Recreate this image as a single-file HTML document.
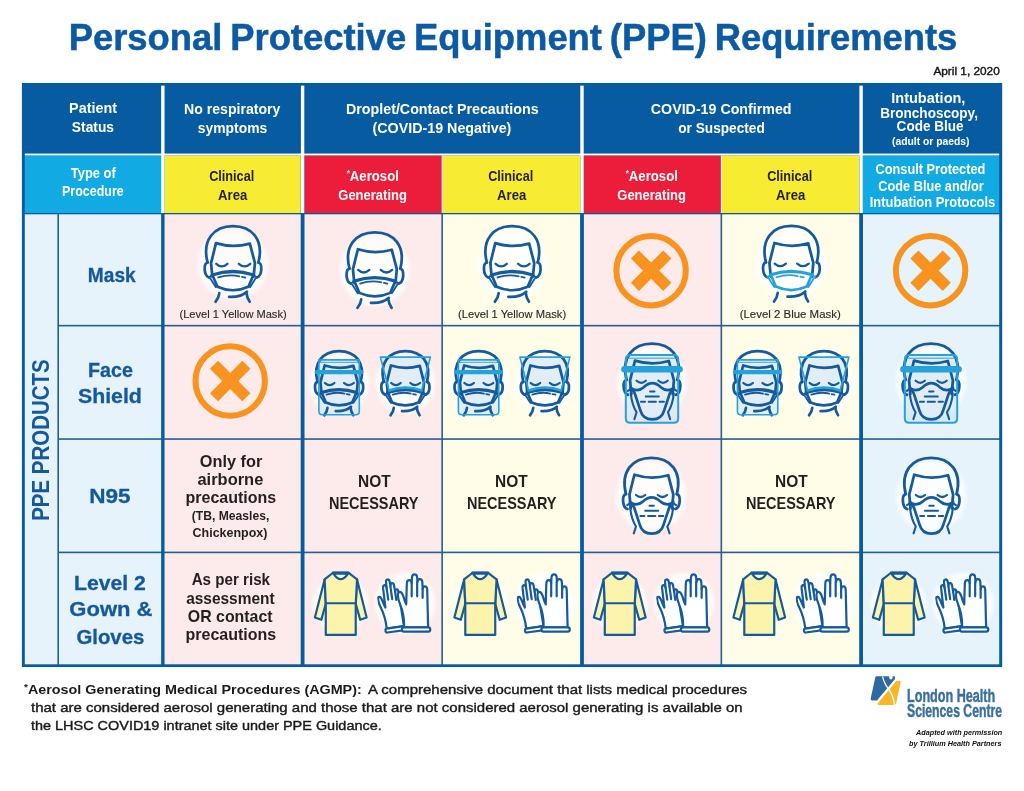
<!DOCTYPE html>
<html lang="en"><head><meta charset="utf-8"><title>Personal Protective Equipment (PPE) Requirements</title>
<style>
html,body{margin:0;padding:0;background:#fff}
body{width:1024px;height:791px;position:relative;overflow:hidden;font-family:"Liberation Sans",sans-serif}
.r{position:absolute}
.ic{position:absolute;left:0;top:0;overflow:visible}
.t{position:absolute;white-space:nowrap;line-height:1}
.s{display:inline-block;white-space:nowrap}
.f{-webkit-text-stroke:0.4px #1a1a1a}
.c{-webkit-text-stroke:0.15px #2a2a2a}
.tt{-webkit-text-stroke:0.5px #0b5aa2}
.lb{-webkit-text-stroke:0.3px #14599d}
.lg{-webkit-text-stroke:0.45px #3a709e}
.h{-webkit-text-stroke:0.2px currentColor}
</style></head>
<body>
<svg class="ic" width="1024" height="791" viewBox="0 0 1024 791">
<rect x="21.90" y="82.95" width="980.30" height="584.10" fill="#075ca1"/>
<rect x="24.80" y="155.40" width="136.35" height="57.60" fill="#12aae2"/>
<rect x="164.55" y="155.40" width="136.15" height="57.60" fill="#f7ec32"/>
<rect x="304.50" y="155.40" width="137.15" height="57.60" fill="#ec1c3b"/>
<rect x="442.75" y="155.40" width="137.35" height="57.60" fill="#f7ec32"/>
<rect x="583.90" y="155.40" width="136.95" height="57.60" fill="#ec1c3b"/>
<rect x="721.95" y="155.40" width="137.25" height="57.60" fill="#f7ec32"/>
<rect x="863.00" y="155.40" width="136.20" height="57.60" fill="#12aae2"/>
<rect x="24.80" y="153.55" width="974.40" height="1.85" fill="#fff"/>
<rect x="161.15" y="85.65" width="3.40" height="127.35" fill="#fff"/>
<rect x="300.90" y="85.65" width="3.40" height="127.35" fill="#fff"/>
<rect x="580.30" y="85.65" width="3.40" height="127.35" fill="#fff"/>
<rect x="859.40" y="85.65" width="3.40" height="127.35" fill="#fff"/>
<rect x="441.65" y="155.40" width="1.10" height="57.60" fill="#fff"/>
<rect x="720.85" y="155.40" width="1.10" height="57.60" fill="#fff"/>
<rect x="57.30" y="214.30" width="1.80" height="450.00" fill="#27608f"/>
<rect x="441.25" y="214.30" width="1.80" height="450.00" fill="#27608f"/>
<rect x="720.45" y="214.30" width="1.80" height="450.00" fill="#27608f"/>
<rect x="58.20" y="324.75" width="941.00" height="1.80" fill="#27608f"/>
<rect x="58.20" y="438.15" width="941.00" height="1.80" fill="#27608f"/>
<rect x="58.20" y="551.50" width="941.00" height="1.80" fill="#27608f"/>
<rect x="161.15" y="214.30" width="3.40" height="450.00" fill="#075ca1"/>
<rect x="300.70" y="214.30" width="3.80" height="450.00" fill="#075ca1"/>
<rect x="580.10" y="214.30" width="3.80" height="450.00" fill="#075ca1"/>
<rect x="859.20" y="214.30" width="3.80" height="450.00" fill="#075ca1"/>
<rect x="59.00" y="214.30" width="102.15" height="110.55" fill="#e6f3fb"/>
<rect x="164.55" y="214.30" width="136.15" height="110.55" fill="#fdeaea"/>
<rect x="304.50" y="214.30" width="136.85" height="110.55" fill="#fdeaea"/>
<rect x="442.95" y="214.30" width="137.15" height="110.55" fill="#fffde8"/>
<rect x="583.90" y="214.30" width="136.65" height="110.55" fill="#fdeaea"/>
<rect x="722.15" y="214.30" width="137.05" height="110.55" fill="#fffde8"/>
<rect x="863.00" y="214.30" width="136.20" height="110.55" fill="#e6f3fb"/>
<rect x="59.00" y="326.45" width="102.15" height="111.80" fill="#e6f3fb"/>
<rect x="164.55" y="326.45" width="136.15" height="111.80" fill="#fdeaea"/>
<rect x="304.50" y="326.45" width="136.85" height="111.80" fill="#fdeaea"/>
<rect x="442.95" y="326.45" width="137.15" height="111.80" fill="#fffde8"/>
<rect x="583.90" y="326.45" width="136.65" height="111.80" fill="#fdeaea"/>
<rect x="722.15" y="326.45" width="137.05" height="111.80" fill="#fffde8"/>
<rect x="863.00" y="326.45" width="136.20" height="111.80" fill="#e6f3fb"/>
<rect x="59.00" y="439.85" width="102.15" height="111.75" fill="#e6f3fb"/>
<rect x="164.55" y="439.85" width="136.15" height="111.75" fill="#fdeaea"/>
<rect x="304.50" y="439.85" width="136.85" height="111.75" fill="#fdeaea"/>
<rect x="442.95" y="439.85" width="137.15" height="111.75" fill="#fffde8"/>
<rect x="583.90" y="439.85" width="136.65" height="111.75" fill="#fdeaea"/>
<rect x="722.15" y="439.85" width="137.05" height="111.75" fill="#fffde8"/>
<rect x="863.00" y="439.85" width="136.20" height="111.75" fill="#e6f3fb"/>
<rect x="59.00" y="553.20" width="102.15" height="111.10" fill="#e6f3fb"/>
<rect x="164.55" y="553.20" width="136.15" height="111.10" fill="#fdeaea"/>
<rect x="304.50" y="553.20" width="136.85" height="111.10" fill="#fdeaea"/>
<rect x="442.95" y="553.20" width="137.15" height="111.10" fill="#fffde8"/>
<rect x="583.90" y="553.20" width="136.65" height="111.10" fill="#fdeaea"/>
<rect x="722.15" y="553.20" width="137.05" height="111.10" fill="#fffde8"/>
<rect x="863.00" y="553.20" width="136.20" height="111.10" fill="#e6f3fb"/>
<rect x="24.80" y="214.30" width="32.60" height="450.00" fill="#e6f3fb"/>
</svg>
<svg class="ic" width="1024" height="791" viewBox="0 0 1024 791">
<defs>
<radialGradient id="halo"><stop offset="0" stop-color="#fff" stop-opacity=".9"/><stop offset=".84" stop-color="#fff" stop-opacity=".8"/><stop offset="1" stop-color="#fff" stop-opacity="0"/></radialGradient>
<symbol id="head" viewBox="0 0 757 791">
 <g fill="none" stroke="#155a9b" stroke-width="2.75" stroke-linecap="round" stroke-linejoin="round">
  <path vector-effect="non-scaling-stroke" d="M190 322 C150 165 235 72 365 72 C495 72 580 165 540 322"/>
  <path vector-effect="non-scaling-stroke" d="M223 420 L214 326 L248 189 Q365 226 481 192 L516 326 L507 420"/>
  <path vector-effect="non-scaling-stroke" d="M190 322 C162 328 162 410 200 425"/>
  <path vector-effect="non-scaling-stroke" d="M540 322 C568 328 568 410 530 425"/>
 </g>
</symbol>
<symbol id="eyes" viewBox="0 0 757 791">
 <g fill="none" stroke="#155a9b" stroke-width="2.3" stroke-linecap="round">
  <path vector-effect="non-scaling-stroke" d="M250 331 Q288 366 327 331"/><path vector-effect="non-scaling-stroke" d="M405 331 Q444 366 484 331"/>
 </g>
</symbol>
<symbol id="eyes2" viewBox="0 0 757 791">
 <g fill="none" stroke="#155a9b" stroke-width="2.2" stroke-linecap="round">
  <path vector-effect="non-scaling-stroke" d="M259 328 Q291 356 323 328"/><path vector-effect="non-scaling-stroke" d="M409 328 Q441 356 473 328"/>
 </g>
</symbol>
<symbol id="neck" viewBox="0 0 757 791">
 <g fill="none" stroke="#155a9b" stroke-width="2.7" stroke-linecap="round" stroke-linejoin="round">
  <path vector-effect="non-scaling-stroke" d="M271 533 Q268 566 245 592"/>
  <path vector-effect="non-scaling-stroke" d="M458 533 Q461 566 480 592"/>
  <path vector-effect="non-scaling-stroke" d="M338 558 Q420 562 461 523"/>
 </g>
</symbol>
<symbol id="smask" viewBox="0 0 757 791">
 <g fill="none" stroke="#155a9b" stroke-width="2.7" stroke-linecap="round" stroke-linejoin="round">
  <path vector-effect="non-scaling-stroke" d="M224 410 L258 489 Q364 537 471 489 L505 410"/>
  <path vector-effect="non-scaling-stroke" d="M222 408 Q364 360 507 408" stroke-width="3.3"/>
  <path vector-effect="non-scaling-stroke" d="M263 425 Q340 400 409 417 M427 421 L450 426" stroke-width="1.8"/>
  <path vector-effect="non-scaling-stroke" d="M199 424 L222 409 M209 432 L247 492 M530 424 L507 409 M520 432 L482 492" stroke-width="1.8"/>
 </g>
</symbol>
<symbol id="smaskb" viewBox="0 0 757 791">
 <g fill="none" stroke="#25a2dc" stroke-width="2.7" stroke-linecap="round" stroke-linejoin="round">
  <path vector-effect="non-scaling-stroke" d="M224 410 L258 489 Q364 537 471 489 L505 410"/>
  <path vector-effect="non-scaling-stroke" d="M222 408 Q364 360 507 408" stroke-width="3.3"/>
  <path vector-effect="non-scaling-stroke" d="M263 425 Q340 400 409 417 M427 421 L450 426" stroke-width="1.8"/>
  <path vector-effect="non-scaling-stroke" d="M199 424 L222 409 M209 432 L247 492 M530 424 L507 409 M520 432 L482 492" stroke-width="1.8"/>
 </g>
</symbol>
<symbol id="n95" viewBox="0 0 757 791">
 <g fill="none" stroke="#155a9b" stroke-linecap="round" stroke-linejoin="round">
  <path vector-effect="non-scaling-stroke" stroke-width="2.7" d="M218 376 Q262 412 308 372 Q338 344 367 344 Q396 344 426 372 Q472 412 516 376 Q498 396 487 416 L449 532 Q432 594 367 594 Q302 594 285 532 L247 416 Q236 396 218 376 Z"/>
  <path vector-effect="non-scaling-stroke" stroke-width="2.0" d="M352 402 H382 M322 437 H412 M289 472 H317 M342 472 H392 M417 472 H447"/>
  <path vector-effect="non-scaling-stroke" stroke-width="2.1" d="M199 398 L220 384 M219 416 C225 470 240 515 259 545 L244 592 M535 398 L514 384 M515 416 C509 470 494 515 475 545 L490 592"/>
 </g>
</symbol>
<symbol id="xmark" viewBox="-40 -40 80 80">
 <circle r="34.7" fill="none" stroke="#f7931e" stroke-width="6"/>
 <path d="M-16.2 -16.2 L16.2 16.2 M16.2 -16.2 L-16.2 16.2" stroke="#f7931e" stroke-width="11.5" fill="none"/>
</symbol>
<symbol id="gown" viewBox="0 0 963 791">
 <g stroke="#155a9b" stroke-width="15" stroke-linejoin="round" stroke-linecap="round" fill="#fcf3ad">
  <path d="M135 168 L68 430 L112 446 L143 335 Z"/>
  <path d="M358 168 L424 430 L380 446 L349 335 Z"/>
  <path d="M193 122 L135 168 L143 335 L143 550 L349 550 L349 335 L358 168 L298 122 Z"/>
  <path d="M143 332 H349" fill="none"/>
  <path d="M196 128 Q245 205 296 128 Z" fill="#fff"/>
  <path d="M193 122 H298" stroke-width="17"/>
 </g>
</symbol>
<symbol id="glove" viewBox="0 0 240 430">
 <g stroke="#155a9b" stroke-width="2.2" stroke-linejoin="round" stroke-linecap="round" fill="#fff">
  <path vector-effect="non-scaling-stroke" d="M48 372 C50 300 40 260 22 215 C8 180 2 150 12 132 C30 120 42 150 52 190 L62 215 L66 70 C68 42 96 42 98 70 L100 30 C102 2 132 2 134 30 L136 62 C138 36 166 36 168 62 L170 110 C172 86 198 86 200 112 L206 372 Z"/>
  <path vector-effect="non-scaling-stroke" d="M98 70 V160 M134 62 V160 M170 110 V170" fill="none"/>
  <rect vector-effect="non-scaling-stroke" x="34" y="372" width="186" height="30" rx="13"/>
 </g>
</symbol>
</defs>

<circle cx="233.0" cy="264.4" r="38.1" fill="url(#halo)"/>
<use href="#head" x="179.95" y="215.68" width="110.00" height="115.00" />
<use href="#eyes" x="179.95" y="215.68" width="110.00" height="115.00" />
<use href="#neck" x="179.95" y="215.68" width="110.00" height="115.00" />
<use href="#smask" x="179.95" y="215.68" width="110.00" height="115.00" />
<circle cx="374.9" cy="270.5" r="38.1" fill="url(#halo)"/>
<use href="#head" x="321.85" y="221.78" width="110.00" height="115.00" />
<use href="#eyes" x="321.85" y="221.78" width="110.00" height="115.00" />
<use href="#neck" x="321.85" y="221.78" width="110.00" height="115.00" />
<use href="#smask" x="321.85" y="221.78" width="110.00" height="115.00" />
<circle cx="512.3" cy="264.4" r="38.1" fill="url(#halo)"/>
<use href="#head" x="459.25" y="215.68" width="110.00" height="115.00" />
<use href="#eyes" x="459.25" y="215.68" width="110.00" height="115.00" />
<use href="#neck" x="459.25" y="215.68" width="110.00" height="115.00" />
<use href="#smask" x="459.25" y="215.68" width="110.00" height="115.00" />
<use href="#xmark" x="611.10" y="230.70" width="80.00" height="80.00" />
<circle cx="791.4" cy="264.2" r="38.1" fill="url(#halo)"/>
<use href="#head" x="738.35" y="215.48" width="110.00" height="115.00" />
<use href="#eyes" x="738.35" y="215.48" width="110.00" height="115.00" />
<use href="#neck" x="738.35" y="215.48" width="110.00" height="115.00" />
<use href="#smaskb" x="738.35" y="215.48" width="110.00" height="115.00" />
<use href="#xmark" x="890.60" y="230.70" width="80.00" height="80.00" />
<use href="#xmark" x="190.20" y="341.00" width="80.00" height="80.00" />
<circle cx="339.1" cy="383.5" r="32.4" fill="url(#halo)"/>
<path d="M318.9 359.9 H359.3 V411.3 Q359.3 414.8 355.8 414.8 H322.4 Q318.9 414.8 318.9 411.3 Z" fill="#cfe3f4" fill-opacity=".6"/>
<use href="#head" x="294.01" y="342.09" width="93.50" height="97.75" />
<use href="#eyes" x="294.01" y="342.09" width="93.50" height="97.75" />
<use href="#neck" x="294.01" y="342.09" width="93.50" height="97.75" />
<use href="#smask" x="294.01" y="342.09" width="93.50" height="97.75" />
<path d="M318.9 359.9 H359.3 V411.3 Q359.3 414.8 355.8 414.8 H322.4 Q318.9 414.8 318.9 411.3 Z" fill="none" stroke="#25a2dc" stroke-width="1.6"/>
<path d="M318.9 362.3 H359.3" stroke="#25a2dc" stroke-width="0.9"/>
<path d="M316.7 372.1 H361.5" stroke="#25a2dc" stroke-width="4.3" stroke-linecap="round"/>
<circle cx="405.4" cy="383.5" r="32.4" fill="url(#halo)"/>
<path d="M380.4 357.1 L430.4 357.1 L421.7 390.5 Q405.4 384.5 389.1 390.5 Z" fill="#cfe3f4" fill-opacity=".6"/>
<use href="#head" x="360.31" y="342.09" width="93.50" height="97.75" />
<use href="#eyes" x="360.31" y="342.09" width="93.50" height="97.75" />
<use href="#neck" x="360.31" y="342.09" width="93.50" height="97.75" />
<use href="#smask" x="360.31" y="342.09" width="93.50" height="97.75" />
<path d="M380.4 357.1 L430.4 357.1 L421.7 390.5 Q405.4 384.5 389.1 390.5 Z" fill="none" stroke="#25a2dc" stroke-width="1.6" stroke-linejoin="round"/>
<path d="M389.1 390.5 Q405.4 384.5 421.7 390.5" fill="none" stroke="#25a2dc" stroke-width="2.4" stroke-linecap="round"/>
<circle cx="478.6" cy="383.5" r="32.4" fill="url(#halo)"/>
<path d="M458.4 359.9 H498.8 V411.3 Q498.8 414.8 495.3 414.8 H461.9 Q458.4 414.8 458.4 411.3 Z" fill="#cfe3f4" fill-opacity=".6"/>
<use href="#head" x="433.51" y="342.09" width="93.50" height="97.75" />
<use href="#eyes" x="433.51" y="342.09" width="93.50" height="97.75" />
<use href="#neck" x="433.51" y="342.09" width="93.50" height="97.75" />
<use href="#smask" x="433.51" y="342.09" width="93.50" height="97.75" />
<path d="M458.4 359.9 H498.8 V411.3 Q498.8 414.8 495.3 414.8 H461.9 Q458.4 414.8 458.4 411.3 Z" fill="none" stroke="#25a2dc" stroke-width="1.6"/>
<path d="M458.4 362.3 H498.8" stroke="#25a2dc" stroke-width="0.9"/>
<path d="M456.2 372.1 H501.0" stroke="#25a2dc" stroke-width="4.3" stroke-linecap="round"/>
<circle cx="544.9" cy="383.5" r="32.4" fill="url(#halo)"/>
<path d="M519.9 357.1 L569.9 357.1 L561.2 390.5 Q544.9 384.5 528.6 390.5 Z" fill="#cfe3f4" fill-opacity=".6"/>
<use href="#head" x="499.81" y="342.09" width="93.50" height="97.75" />
<use href="#eyes" x="499.81" y="342.09" width="93.50" height="97.75" />
<use href="#neck" x="499.81" y="342.09" width="93.50" height="97.75" />
<use href="#smask" x="499.81" y="342.09" width="93.50" height="97.75" />
<path d="M519.9 357.1 L569.9 357.1 L561.2 390.5 Q544.9 384.5 528.6 390.5 Z" fill="none" stroke="#25a2dc" stroke-width="1.6" stroke-linejoin="round"/>
<path d="M528.6 390.5 Q544.9 384.5 561.2 390.5" fill="none" stroke="#25a2dc" stroke-width="2.4" stroke-linecap="round"/>
<circle cx="757.6" cy="383.5" r="32.4" fill="url(#halo)"/>
<path d="M737.4 359.9 H777.8 V411.3 Q777.8 414.8 774.3 414.8 H740.9 Q737.4 414.8 737.4 411.3 Z" fill="#cfe3f4" fill-opacity=".6"/>
<use href="#head" x="712.51" y="342.09" width="93.50" height="97.75" />
<use href="#eyes" x="712.51" y="342.09" width="93.50" height="97.75" />
<use href="#neck" x="712.51" y="342.09" width="93.50" height="97.75" />
<use href="#smask" x="712.51" y="342.09" width="93.50" height="97.75" />
<path d="M737.4 359.9 H777.8 V411.3 Q777.8 414.8 774.3 414.8 H740.9 Q737.4 414.8 737.4 411.3 Z" fill="none" stroke="#25a2dc" stroke-width="1.6"/>
<path d="M737.4 362.3 H777.8" stroke="#25a2dc" stroke-width="0.9"/>
<path d="M735.2 372.1 H780.0" stroke="#25a2dc" stroke-width="4.3" stroke-linecap="round"/>
<circle cx="823.9" cy="383.5" r="32.4" fill="url(#halo)"/>
<path d="M798.9 357.1 L848.9 357.1 L840.2 390.5 Q823.9 384.5 807.6 390.5 Z" fill="#cfe3f4" fill-opacity=".6"/>
<use href="#head" x="778.81" y="342.09" width="93.50" height="97.75" />
<use href="#eyes" x="778.81" y="342.09" width="93.50" height="97.75" />
<use href="#neck" x="778.81" y="342.09" width="93.50" height="97.75" />
<use href="#smask" x="778.81" y="342.09" width="93.50" height="97.75" />
<path d="M798.9 357.1 L848.9 357.1 L840.2 390.5 Q823.9 384.5 807.6 390.5 Z" fill="none" stroke="#25a2dc" stroke-width="1.6" stroke-linejoin="round"/>
<path d="M807.6 390.5 Q823.9 384.5 840.2 390.5" fill="none" stroke="#25a2dc" stroke-width="2.4" stroke-linecap="round"/>
<circle cx="652.0" cy="381.8" r="38.1" fill="url(#halo)"/>
<path d="M625.8 359.5 Q625.8 355.0 630.3 355.0 H673.7 Q678.2 355.0 678.2 359.5 V418.3 Q678.2 422.8 673.7 422.8 H630.3 Q625.8 422.8 625.8 418.3 Z" fill="#cfe3f4" fill-opacity=".6"/>
<use href="#head" x="598.95" y="333.08" width="110.00" height="115.00" />
<use href="#eyes2" x="598.95" y="333.08" width="110.00" height="115.00" />
<use href="#n95" x="598.95" y="333.08" width="110.00" height="115.00" />
<path d="M625.8 359.5 Q625.8 355.0 630.3 355.0 H673.7 Q678.2 355.0 678.2 359.5 V418.3 Q678.2 422.8 673.7 422.8 H630.3 Q625.8 422.8 625.8 418.3 Z" fill="none" stroke="#25a2dc" stroke-width="2"/>
<path d="M625.8 358.2 H678.2" stroke="#25a2dc" stroke-width="1"/>
<path d="M624.4 369.3 H679.6" stroke="#25a2dc" stroke-width="6.5" stroke-linecap="round"/>
<circle cx="931.0" cy="381.8" r="38.1" fill="url(#halo)"/>
<path d="M904.8 359.5 Q904.8 355.0 909.3 355.0 H952.7 Q957.2 355.0 957.2 359.5 V418.3 Q957.2 422.8 952.7 422.8 H909.3 Q904.8 422.8 904.8 418.3 Z" fill="#cfe3f4" fill-opacity=".6"/>
<use href="#head" x="877.95" y="333.08" width="110.00" height="115.00" />
<use href="#eyes2" x="877.95" y="333.08" width="110.00" height="115.00" />
<use href="#n95" x="877.95" y="333.08" width="110.00" height="115.00" />
<path d="M904.8 359.5 Q904.8 355.0 909.3 355.0 H952.7 Q957.2 355.0 957.2 359.5 V418.3 Q957.2 422.8 952.7 422.8 H909.3 Q904.8 422.8 904.8 418.3 Z" fill="none" stroke="#25a2dc" stroke-width="2"/>
<path d="M904.8 358.2 H957.2" stroke="#25a2dc" stroke-width="1"/>
<path d="M903.4 369.3 H958.6" stroke="#25a2dc" stroke-width="6.5" stroke-linecap="round"/>
<circle cx="651.4" cy="496.0" r="38.1" fill="url(#halo)"/>
<use href="#head" x="598.35" y="447.28" width="110.00" height="115.00" />
<use href="#eyes2" x="598.35" y="447.28" width="110.00" height="115.00" />
<use href="#n95" x="598.35" y="447.28" width="110.00" height="115.00" />
<circle cx="931.2" cy="496.0" r="38.1" fill="url(#halo)"/>
<use href="#head" x="878.15" y="447.28" width="110.00" height="115.00" />
<use href="#eyes2" x="878.15" y="447.28" width="110.00" height="115.00" />
<use href="#n95" x="878.15" y="447.28" width="110.00" height="115.00" />
<circle cx="340.5" cy="604.0" r="30.0" fill="url(#halo)"/>
<use href="#gown" x="305.00" y="555.00" width="140.00" height="115.00" />
<circle cx="405.0" cy="603.0" r="33.0" fill="url(#halo)"/>
<g transform="translate(374.6 579.9) rotate(-8) scale(0.110 0.134)"><use href="#glove" width="240" height="430"/></g>
<g transform="translate(396.8 573.0) scale(0.152 0.146)"><use href="#glove" width="240" height="430"/></g>
<circle cx="480.0" cy="604.0" r="30.0" fill="url(#halo)"/>
<use href="#gown" x="444.50" y="555.00" width="140.00" height="115.00" />
<circle cx="544.5" cy="603.0" r="33.0" fill="url(#halo)"/>
<g transform="translate(514.1 579.9) rotate(-8) scale(0.110 0.134)"><use href="#glove" width="240" height="430"/></g>
<g transform="translate(536.3 573.0) scale(0.152 0.146)"><use href="#glove" width="240" height="430"/></g>
<circle cx="619.5" cy="604.0" r="30.0" fill="url(#halo)"/>
<use href="#gown" x="584.00" y="555.00" width="140.00" height="115.00" />
<circle cx="684.0" cy="603.0" r="33.0" fill="url(#halo)"/>
<g transform="translate(653.6 579.9) rotate(-8) scale(0.110 0.134)"><use href="#glove" width="240" height="430"/></g>
<g transform="translate(675.8 573.0) scale(0.152 0.146)"><use href="#glove" width="240" height="430"/></g>
<circle cx="759.0" cy="604.0" r="30.0" fill="url(#halo)"/>
<use href="#gown" x="723.50" y="555.00" width="140.00" height="115.00" />
<circle cx="823.5" cy="603.0" r="33.0" fill="url(#halo)"/>
<g transform="translate(793.1 579.9) rotate(-8) scale(0.110 0.134)"><use href="#glove" width="240" height="430"/></g>
<g transform="translate(815.3 573.0) scale(0.152 0.146)"><use href="#glove" width="240" height="430"/></g>
<circle cx="898.5" cy="604.0" r="30.0" fill="url(#halo)"/>
<use href="#gown" x="863.00" y="555.00" width="140.00" height="115.00" />
<circle cx="963.0" cy="603.0" r="33.0" fill="url(#halo)"/>
<g transform="translate(932.6 579.9) rotate(-8) scale(0.110 0.134)"><use href="#glove" width="240" height="430"/></g>
<g transform="translate(954.8 573.0) scale(0.152 0.146)"><use href="#glove" width="240" height="430"/></g>
</svg>
<svg class="ic" width="1024" height="791" viewBox="0 0 1024 791">
<g transform="translate(862 670) scale(0.05056)">
<path d="M290 122 H640 Q652 122 652 134 V192 L308 603 H198 Q164 600 172 565 L262 150 Q268 122 290 122 Z" fill="#2c6aa0"/>
<path d="M672 222 L742 211 Q772 210 765 242 L673 668 Q668 690 648 690 H322 Q292 688 312 660 Z" fill="#fdb726"/>
<path d="M418 128 C440 210 470 280 522 345 C590 430 640 540 655 688 L628 690 C612 560 570 455 505 372 C450 300 418 230 395 135 Z" fill="#fff"/>
<path d="M300 600 L655 178 L668 215 L330 625 Z" fill="#fff"/>
<path d="M538 118 H606 V150 Q600 188 572 190 Q542 188 538 150 Z" fill="#fff"/>
</g></svg>
<div class="t tt" style="font-size:37px;font-weight:700;color:#0b5aa2;top:19.08px;word-spacing:-0.06em;left:13.30px;width:1000px;text-align:center;"><span id="t0" class="s" style="transform:scaleX(0.9830);transform-origin:50% 50%">Personal Protective Equipment (PPE) Requirements</span></div>
<div class="t f" style="font-size:11px;font-weight:400;color:#111;top:66.19px;right:24.00px;text-align:right;"><span id="t1" class="s" style="transform:scaleX(1.0742);transform-origin:100% 50%">April 1, 2020</span></div>
<div class="t " style="font-size:15px;font-weight:700;color:#fff;top:99.70px;left:-407.10px;width:1000px;text-align:center;"><span id="t2" class="s" style="transform:scaleX(0.9580);transform-origin:50% 50%">Patient</span></div>
<div class="t " style="font-size:15px;font-weight:700;color:#fff;top:118.90px;left:-407.10px;width:1000px;text-align:center;"><span id="t3" class="s" style="transform:scaleX(0.9196);transform-origin:50% 50%">Status</span></div>
<div class="t " style="font-size:15px;font-weight:700;color:#fff;top:100.90px;left:-267.50px;width:1000px;text-align:center;"><span id="t4" class="s" style="transform:scaleX(0.9398);transform-origin:50% 50%">No respiratory</span></div>
<div class="t " style="font-size:15px;font-weight:700;color:#fff;top:119.50px;left:-267.10px;width:1000px;text-align:center;"><span id="t5" class="s" style="transform:scaleX(0.9253);transform-origin:50% 50%">symptoms</span></div>
<div class="t " style="font-size:15px;font-weight:700;color:#fff;top:100.90px;left:-58.00px;width:1000px;text-align:center;"><span id="t6" class="s" style="transform:scaleX(0.9512);transform-origin:50% 50%">Droplet/Contact Precautions</span></div>
<div class="t " style="font-size:15px;font-weight:700;color:#fff;top:119.50px;left:-58.10px;width:1000px;text-align:center;"><span id="t7" class="s" style="transform:scaleX(0.9521);transform-origin:50% 50%">(COVID-19 Negative)</span></div>
<div class="t " style="font-size:15px;font-weight:700;color:#fff;top:100.90px;left:221.20px;width:1000px;text-align:center;"><span id="t8" class="s" style="transform:scaleX(0.9486);transform-origin:50% 50%">COVID-19 Confirmed</span></div>
<div class="t " style="font-size:15px;font-weight:700;color:#fff;top:119.50px;left:221.20px;width:1000px;text-align:center;"><span id="t9" class="s" style="transform:scaleX(0.9116);transform-origin:50% 50%">or Suspected</span></div>
<div class="t " style="font-size:15px;font-weight:700;color:#fff;top:90.30px;left:428.80px;width:1000px;text-align:center;"><span id="t10" class="s" style="transform:scaleX(0.9675);transform-origin:50% 50%">Intubation,</span></div>
<div class="t " style="font-size:15px;font-weight:700;color:#fff;top:104.70px;left:429.40px;width:1000px;text-align:center;"><span id="t11" class="s" style="transform:scaleX(0.9046);transform-origin:50% 50%">Bronchoscopy,</span></div>
<div class="t " style="font-size:15px;font-weight:700;color:#fff;top:118.30px;left:429.60px;width:1000px;text-align:center;"><span id="t12" class="s" style="transform:scaleX(0.9027);transform-origin:50% 50%">Code Blue</span></div>
<div class="t " style="font-size:11.4px;font-weight:700;color:#fff;top:136.05px;left:430.70px;width:1000px;text-align:center;"><span id="t13" class="s" style="transform:scaleX(0.9059);transform-origin:50% 50%">(adult or paeds)</span></div>
<div class="t " style="font-size:14.5px;font-weight:700;color:#fff;top:166.13px;left:-406.30px;width:1000px;text-align:center;"><span id="t14" class="s" style="transform:scaleX(0.8900);transform-origin:50% 50%">Type of</span></div>
<div class="t " style="font-size:14.5px;font-weight:700;color:#fff;top:183.73px;left:-406.80px;width:1000px;text-align:center;"><span id="t15" class="s" style="transform:scaleX(0.8597);transform-origin:50% 50%">Procedure</span></div>
<div class="t " style="font-size:15px;font-weight:700;color:#231f20;top:168.30px;left:-268.70px;width:1000px;text-align:center;"><span id="t16" class="s" style="transform:scaleX(0.8453);transform-origin:50% 50%">Clinical</span></div>
<div class="t " style="font-size:15px;font-weight:700;color:#231f20;top:187.30px;left:-267.50px;width:1000px;text-align:center;"><span id="t17" class="s" style="transform:scaleX(0.8758);transform-origin:50% 50%">Area</span></div>
<div class="t " style="font-size:15px;font-weight:700;color:#231f20;top:168.30px;left:10.50px;width:1000px;text-align:center;"><span id="t18" class="s" style="transform:scaleX(0.8453);transform-origin:50% 50%">Clinical</span></div>
<div class="t " style="font-size:15px;font-weight:700;color:#231f20;top:187.30px;left:11.70px;width:1000px;text-align:center;"><span id="t19" class="s" style="transform:scaleX(0.8758);transform-origin:50% 50%">Area</span></div>
<div class="t " style="font-size:15px;font-weight:700;color:#231f20;top:168.30px;left:289.80px;width:1000px;text-align:center;"><span id="t20" class="s" style="transform:scaleX(0.8453);transform-origin:50% 50%">Clinical</span></div>
<div class="t " style="font-size:15px;font-weight:700;color:#231f20;top:187.30px;left:291.00px;width:1000px;text-align:center;"><span id="t21" class="s" style="transform:scaleX(0.8758);transform-origin:50% 50%">Area</span></div>
<div class="t " style="font-size:15px;font-weight:700;color:#fff;top:168.30px;left:-127.20px;width:1000px;text-align:center;"><span id="t22" class="s" style="transform:scaleX(0.8780);transform-origin:50% 50%"><span style="font-size:62%;position:relative;top:-0.55em">*</span>Aerosol</span></div>
<div class="t " style="font-size:15px;font-weight:700;color:#fff;top:187.30px;left:-127.90px;width:1000px;text-align:center;"><span id="t23" class="s" style="transform:scaleX(0.8671);transform-origin:50% 50%">Generating</span></div>
<div class="t " style="font-size:15px;font-weight:700;color:#fff;top:168.30px;left:152.10px;width:1000px;text-align:center;"><span id="t24" class="s" style="transform:scaleX(0.8780);transform-origin:50% 50%"><span style="font-size:62%;position:relative;top:-0.55em">*</span>Aerosol</span></div>
<div class="t " style="font-size:15px;font-weight:700;color:#fff;top:187.30px;left:151.40px;width:1000px;text-align:center;"><span id="t25" class="s" style="transform:scaleX(0.8671);transform-origin:50% 50%">Generating</span></div>
<div class="t " style="font-size:14.5px;font-weight:700;color:#fff;top:162.13px;left:430.70px;width:1000px;text-align:center;"><span id="t26" class="s" style="transform:scaleX(0.8792);transform-origin:50% 50%">Consult Protected</span></div>
<div class="t " style="font-size:14.5px;font-weight:700;color:#fff;top:178.93px;left:430.70px;width:1000px;text-align:center;"><span id="t27" class="s" style="transform:scaleX(0.8783);transform-origin:50% 50%">Code Blue and/or</span></div>
<div class="t " style="font-size:14.5px;font-weight:700;color:#fff;top:195.33px;left:432.00px;width:1000px;text-align:center;"><span id="t28" class="s" style="transform:scaleX(0.8901);transform-origin:50% 50%">Intubation Protocols</span></div>
<div class="t lb" style="font-size:20.6px;font-weight:700;color:#14599d;top:264.66px;left:-388.70px;width:1000px;text-align:center;"><span id="t29" class="s" style="transform:scaleX(0.9288);transform-origin:50% 50%">Mask</span></div>
<div class="t lb" style="font-size:20.6px;font-weight:700;color:#14599d;top:359.56px;left:-389.20px;width:1000px;text-align:center;"><span id="t30" class="s" style="transform:scaleX(0.9553);transform-origin:50% 50%">Face</span></div>
<div class="t lb" style="font-size:20.6px;font-weight:700;color:#14599d;top:386.16px;left:-389.80px;width:1000px;text-align:center;"><span id="t31" class="s" style="transform:scaleX(1.0355);transform-origin:50% 50%">Shield</span></div>
<div class="t lb" style="font-size:20.6px;font-weight:700;color:#14599d;top:486.06px;left:-390.00px;width:1000px;text-align:center;"><span id="t32" class="s" style="transform:scaleX(1.0947);transform-origin:50% 50%">N95</span></div>
<div class="t lb" style="font-size:20.6px;font-weight:700;color:#14599d;top:572.66px;left:-389.60px;width:1000px;text-align:center;"><span id="t33" class="s" style="transform:scaleX(1.0286);transform-origin:50% 50%">Level 2</span></div>
<div class="t lb" style="font-size:20.6px;font-weight:700;color:#14599d;top:599.06px;left:-389.50px;width:1000px;text-align:center;"><span id="t34" class="s" style="transform:scaleX(1.0679);transform-origin:50% 50%">Gown &amp;</span></div>
<div class="t lb" style="font-size:20.6px;font-weight:700;color:#14599d;top:626.66px;left:-389.20px;width:1000px;text-align:center;"><span id="t35" class="s" style="transform:scaleX(0.9884);transform-origin:50% 50%">Gloves</span></div>
<div class="t c" style="font-size:11.6px;font-weight:400;color:#2a2a2a;top:307.78px;left:-266.60px;width:1000px;text-align:center;"><span id="t36" class="s" style="transform:scaleX(0.9554);transform-origin:50% 50%">(Level 1 Yellow Mask)</span></div>
<div class="t c" style="font-size:11.6px;font-weight:400;color:#2a2a2a;top:307.78px;left:12.30px;width:1000px;text-align:center;"><span id="t37" class="s" style="transform:scaleX(0.9643);transform-origin:50% 50%">(Level 1 Yellow Mask)</span></div>
<div class="t c" style="font-size:11.6px;font-weight:400;color:#2a2a2a;top:307.78px;left:289.90px;width:1000px;text-align:center;"><span id="t38" class="s" style="transform:scaleX(0.9863);transform-origin:50% 50%">(Level 2 Blue Mask)</span></div>
<div class="t " style="font-size:16.2px;font-weight:700;color:#231f20;top:452.79px;left:-269.40px;width:1000px;text-align:center;"><span id="t39" class="s" style="transform:scaleX(1.0081);transform-origin:50% 50%">Only for</span></div>
<div class="t " style="font-size:16.2px;font-weight:700;color:#231f20;top:471.09px;left:-269.50px;width:1000px;text-align:center;"><span id="t40" class="s" style="transform:scaleX(1.0169);transform-origin:50% 50%">airborne</span></div>
<div class="t " style="font-size:16.2px;font-weight:700;color:#231f20;top:489.29px;left:-269.00px;width:1000px;text-align:center;"><span id="t41" class="s" style="transform:scaleX(0.9891);transform-origin:50% 50%">precautions</span></div>
<div class="t " style="font-size:13px;font-weight:700;color:#231f20;top:509.30px;left:-269.50px;width:1000px;text-align:center;"><span id="t42" class="s" style="transform:scaleX(0.9325);transform-origin:50% 50%">(TB, Measles,</span></div>
<div class="t " style="font-size:13px;font-weight:700;color:#231f20;top:526.00px;left:-269.80px;width:1000px;text-align:center;"><span id="t43" class="s" style="transform:scaleX(0.9590);transform-origin:50% 50%">Chickenpox)</span></div>
<div class="t " style="font-size:16.2px;font-weight:700;color:#231f20;top:571.29px;left:-269.50px;width:1000px;text-align:center;"><span id="t44" class="s" style="transform:scaleX(0.9369);transform-origin:50% 50%">As per risk</span></div>
<div class="t " style="font-size:16.2px;font-weight:700;color:#231f20;top:589.69px;left:-269.50px;width:1000px;text-align:center;"><span id="t45" class="s" style="transform:scaleX(0.9538);transform-origin:50% 50%">assessment</span></div>
<div class="t " style="font-size:16.2px;font-weight:700;color:#231f20;top:607.99px;left:-269.70px;width:1000px;text-align:center;"><span id="t46" class="s" style="transform:scaleX(0.9814);transform-origin:50% 50%">OR contact</span></div>
<div class="t " style="font-size:16.2px;font-weight:700;color:#231f20;top:626.29px;left:-269.00px;width:1000px;text-align:center;"><span id="t47" class="s" style="transform:scaleX(0.9891);transform-origin:50% 50%">precautions</span></div>
<div class="t " style="font-size:16.4px;font-weight:700;color:#231f20;top:473.22px;left:-126.20px;width:1000px;text-align:center;"><span id="t48" class="s" style="transform:scaleX(0.9429);transform-origin:50% 50%">NOT</span></div>
<div class="t " style="font-size:16.4px;font-weight:700;color:#231f20;top:495.32px;left:-126.00px;width:1000px;text-align:center;"><span id="t49" class="s" style="transform:scaleX(0.8832);transform-origin:50% 50%">NECESSARY</span></div>
<div class="t " style="font-size:16.4px;font-weight:700;color:#231f20;top:473.22px;left:11.80px;width:1000px;text-align:center;"><span id="t50" class="s" style="transform:scaleX(0.9429);transform-origin:50% 50%">NOT</span></div>
<div class="t " style="font-size:16.4px;font-weight:700;color:#231f20;top:495.32px;left:12.00px;width:1000px;text-align:center;"><span id="t51" class="s" style="transform:scaleX(0.8832);transform-origin:50% 50%">NECESSARY</span></div>
<div class="t " style="font-size:16.4px;font-weight:700;color:#231f20;top:473.22px;left:291.00px;width:1000px;text-align:center;"><span id="t52" class="s" style="transform:scaleX(0.9429);transform-origin:50% 50%">NOT</span></div>
<div class="t " style="font-size:16.4px;font-weight:700;color:#231f20;top:495.32px;left:291.20px;width:1000px;text-align:center;"><span id="t53" class="s" style="transform:scaleX(0.8832);transform-origin:50% 50%">NECESSARY</span></div>
<div class="t " style="font-size:13.6px;font-weight:700;color:#1a1a1a;top:683.29px;left:23.50px;text-align:left;"><span id="t54" class="s" style="transform:scaleX(1.0547);transform-origin:0 50%"><span style="font-size:70%;position:relative;top:-0.4em">*</span>Aerosol Generating Medical Procedures (AGMP):</span></div>
<div class="t f" style="font-size:13.6px;font-weight:400;color:#1a1a1a;top:683.29px;left:367.50px;text-align:left;"><span id="t55" class="s" style="transform:scaleX(1.1026);transform-origin:0 50%">A comprehensive document that lists medical procedures</span></div>
<div class="t f" style="font-size:13.6px;font-weight:400;color:#1a1a1a;top:700.99px;left:30.50px;text-align:left;"><span id="t56" class="s" style="transform:scaleX(1.1026);transform-origin:0 50%">that are considered aerosol generating and those that are not considered aerosol generating is available on</span></div>
<div class="t f" style="font-size:13.6px;font-weight:400;color:#1a1a1a;top:718.89px;left:30.50px;text-align:left;"><span id="t57" class="s" style="transform:scaleX(1.0621);transform-origin:0 50%">the LHSC COVID19 intranet site under PPE Guidance.</span></div>
<div class="t lg" style="font-size:17.5px;font-weight:700;color:#3a709e;top:687.59px;left:906.90px;text-align:left;"><span id="t58" class="s" style="transform:scaleX(0.7205);transform-origin:0 50%">London Health</span></div>
<div class="t lg" style="font-size:17.5px;font-weight:700;color:#3a709e;top:703.19px;left:906.90px;text-align:left;"><span id="t59" class="s" style="transform:scaleX(0.6978);transform-origin:0 50%">Sciences Centre</span></div>
<div class="t " style="font-size:7.6px;font-weight:700;color:#111;top:728.57px;font-style:italic;right:22.20px;text-align:right;"><span id="t60" class="s" style="transform:scaleX(0.9556);transform-origin:100% 50%">Adapted with permission</span></div>
<div class="t " style="font-size:7.6px;font-weight:700;color:#111;top:740.07px;font-style:italic;right:22.20px;text-align:right;"><span id="t61" class="s" style="transform:scaleX(0.9588);transform-origin:100% 50%">by Trillium Health Partners</span></div>
<div class="t" style="left:-459.1px;width:1000px;text-align:center;top:427.98px;font-size:24px;font-weight:700;color:#14599d;transform:rotate(-90deg);transform-origin:50% 48.85%"><span class="s" id="tppe" style="transform:scaleX(0.8534)">PPE PRODUCTS</span></div>
</body></html>
